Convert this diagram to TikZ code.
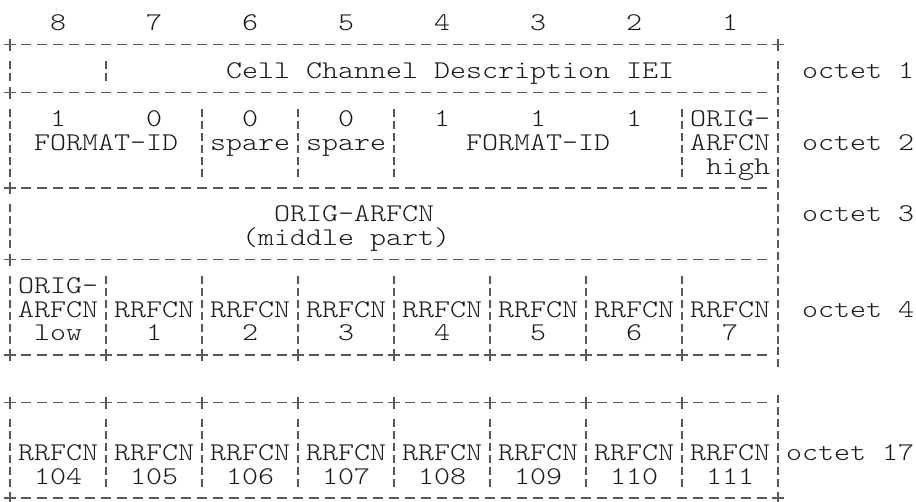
\documentclass[tikz,border=0pt]{standalone}
\usepackage{fontspec}
\newfontfamily\asciifont[FakeStretch=1.195]{lmmonolt10-regular.otf}
\newcommand\cX[1]{10+16*(#1)}
\newcommand\lY[1]{23.5+23.85*((#1)-1)}
\newcommand\txt[4]{\node[lbl] (#1) at ({2+16*(#3)},{\lY{#2}+7.4}) {#4};}
\newcommand\dashrow[3]{\foreach \dd in {#2,...,#3}{\draw[rl] ({\cX{\dd}-5},{\lY{#1}-2.5}) -- ({\cX{\dd}+5},{\lY{#1}-2.5});}}
\newcommand\plusat[2]{\draw[rl] ({\cX{#2}-6},{\lY{#1}-2.5}) -- ({\cX{#2}+6},{\lY{#1}-2.5}) ({\cX{#2}},{\lY{#1}-8.5}) -- ({\cX{#2}},{\lY{#1}+3.5});}
\newcommand\barat[2]{\draw[rl] ({\cX{#2}},{\lY{#1}-10}) -- ({\cX{#2}},{\lY{#1}-2}) ({\cX{#2}},{\lY{#1}+2}) -- ({\cX{#2}},{\lY{#1}+10});}
\begin{document}
\begin{tikzpicture}[x=1pt,y=-1pt,
  lbl/.style={font=\asciifont\fontsize{25.5}{25.5}\selectfont, text=black!90, inner sep=0pt, anchor=base west},
  rl/.style={line width=1.2pt, draw=black!65}]
\useasboundingbox (0,0) rectangle (916,501);
% line 1: bit numbers
\foreach \b [count=\i from 0] in {8,7,6,5,4,3,2,1}{\txt{bit\b}{1}{3+6*\i}{\b}}
% line 2
\plusat{2}{0}\dashrow{2}{1}{47}\plusat{2}{48}
% line 3
\barat{3}{0}\barat{3}{6}\barat{3}{48}
\txt{iei}{3}{14}{Cell Channel Description IEI}
\txt{oct1}{3}{50}{octet 1}
% line 4
\plusat{4}{0}\dashrow{4}{1}{47}\barat{4}{48}
% lines 5-7
\foreach \L in {5,6,7}{\foreach \c in {0,12,18,24,42,48}{\barat{\L}{\c}}}
\txt{b8}{5}{3}{1}\txt{b7}{5}{9}{0}\txt{b6}{5}{15}{0}\txt{b5}{5}{21}{0}
\txt{b4}{5}{27}{1}\txt{b3}{5}{33}{1}\txt{b2}{5}{39}{1}\txt{origa}{5}{43}{ORIG-}
\txt{fmta}{6}{2}{FORMAT-ID}\txt{sparea}{6}{13}{spare}\txt{spareb}{6}{19}{spare}
\txt{fmtb}{6}{29}{FORMAT-ID}\txt{arfcna}{6}{43}{ARFCN}\txt{oct2}{6}{50}{octet 2}
\txt{high}{7}{44}{high}
% line 8
\plusat{8}{0}\dashrow{8}{1}{47}\barat{8}{48}
% lines 9-10
\foreach \L in {9,10}{\barat{\L}{0}\barat{\L}{48}}
\txt{origmid}{9}{17}{ORIG-ARFCN}\txt{oct3}{9}{50}{octet 3}
\txt{midpart}{10}{15}{(middle part)}
% line 11
\plusat{11}{0}\dashrow{11}{1}{47}\barat{11}{48}
% lines 12-14
\foreach \L in {12,13,14}{\foreach \c in {0,6,...,48}{\barat{\L}{\c}}}
\txt{origb}{12}{1}{ORIG-}\txt{arfcnb}{13}{1}{ARFCN}\txt{low}{14}{2}{low}
\foreach \k in {1,...,7}{\txt{rr\k}{13}{1+6*\k}{RRFCN}\txt{rn\k}{14}{3+6*\k}{\k}}
\txt{oct4}{13}{50}{octet 4}
% line 15
\foreach \c in {0,6,...,42}{\pgfmathtruncatemacro\ca{\c+1}\pgfmathtruncatemacro\cb{\c+5}\plusat{15}{\c}\dashrow{15}{\ca}{\cb}}
\barat{15}{48}
% line 17
\foreach \c in {0,6,...,42}{\pgfmathtruncatemacro\ca{\c+1}\pgfmathtruncatemacro\cb{\c+5}\plusat{17}{\c}\dashrow{17}{\ca}{\cb}}
\barat{17}{48}
% lines 18-20
\foreach \L in {18,19,20}{\foreach \c in {0,6,...,48}{\barat{\L}{\c}}}
\foreach \n [count=\k from 0] in {104,...,111}{\txt{rrb\n}{19}{1+6*\k}{RRFCN}\txt{num\n}{20}{2+6*\k}{\n}}
\txt{oct17}{19}{49}{octet 17}
% line 21
\plusat{21}{0}\dashrow{21}{1}{47}\plusat{21}{48}
\end{tikzpicture}
\end{document}
